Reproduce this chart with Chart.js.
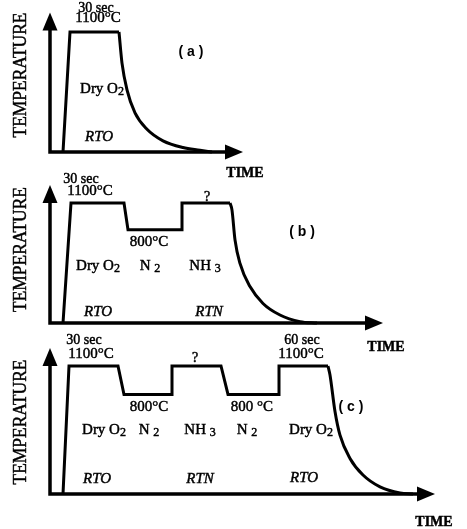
<!DOCTYPE html>
<html>
<head>
<meta charset="utf-8">
<script src="https://cdn.jsdelivr.net/npm/chart.js@4/dist/chart.umd.min.js"></script>
<style>
  html, body { margin: 0; padding: 0; background: #fff; }
  #wrap { position: relative; width: 467px; height: 529px; overflow: hidden; }
  #wrap canvas { position: absolute; left: 0; top: 0; }
</style>
</head>
<body>
<div id="wrap">
  <canvas id="panelA" width="467" height="529"></canvas>
  <canvas id="panelB" width="467" height="529"></canvas>
  <canvas id="panelC" width="467" height="529"></canvas>
</div>
<script>
// Rapid thermal processing schedules: temperature (°C) against time (schematic units)
const AXIS_T = -250;          // temperature level where the time axis sits
const PEAK_T = 1100;

// (a) RTO in dry O2
const timeA = [13, 20, 69];
const tempA = [AXIS_T, 1100, 1100];
const coolTimeA = [69, 72, 77, 85, 97, 113, 133, 150, 162];
const coolTempA = [1100, 750, 450, 190, 5, -125, -200, -230, AXIS_T];

// (b) RTO, N2 at 800 °C, then RTN in NH3
const timeB = [13, 21, 74, 78, 132, 132, 180];
const tempB = [AXIS_T, 1100, 1100, 800, 800, 1100, 1100];
const coolTimeB = [180, 182, 185, 190, 200, 213, 230, 250, 267];
const coolTempB = [1100, 1020, 685, 420, 160, -30, -160, -235, AXIS_T];

// (c) RTO, N2, RTN in NH3, N2, re-oxidation in dry O2
const timeC = [13, 19, 68, 74, 122, 122, 171, 178, 229, 229, 278];
const tempC = [AXIS_T, 1100, 1100, 800, 800, 1100, 1100, 800, 800, 1100, 1100];
const coolTimeC = [278, 280, 285, 290, 300, 313, 330, 350, 363];
const coolTempC = [1100, 1005, 620, 370, 125, -50, -175, -240, AXIS_T];

// Text placed on each panel: [style, text, time, temperature anchor, pixel offset]
const notesA = [
  ['small', '30 sec', 46, PEAK_T, -24],
  ['temp', '1100°C', 48, PEAK_T, -14],
  ['tag', '( a )', 141, PEAK_T, 20],
  ['gas', 'Dry O_2', 52, AXIS_T, -63],
  ['proc', 'RTO', 49, AXIS_T, -15]
];
const notesB = [
  ['small', '30 sec', 31, PEAK_T, -24],
  ['temp', '1100°C', 40, PEAK_T, -12],
  ['q', '?', 157, PEAK_T, -6],
  ['temp', '800°C', 99, 800, 12],
  ['tag', '( b )', 252, PEAK_T, 29],
  ['gas', 'Dry O_2', 48, AXIS_T, -57],
  ['gas', 'N _2', 100, AXIS_T, -57],
  ['gas', 'NH _3', 155, AXIS_T, -57],
  ['proc', 'RTO', 48, AXIS_T, -11],
  ['proc', 'RTN', 159, AXIS_T, -11]
];
const notesC = [
  ['small', '30 sec', 34, PEAK_T, -26],
  ['temp', '1100°C', 41, PEAK_T, -12],
  ['q', '?', 145, PEAK_T, -8],
  ['small', '60 sec', 252, PEAK_T, -26],
  ['temp', '1100°C', 251, PEAK_T, -12],
  ['temp', '800°C', 99, 800, 13],
  ['temp', '800 °C', 202, 800, 13],
  ['tag', '( c )', 301, PEAK_T, 41],
  ['gas', 'Dry O_2', 54, AXIS_T, -64],
  ['gas', 'N _2', 99, AXIS_T, -64],
  ['gas', 'NH _3', 150, AXIS_T, -64],
  ['gas', 'N _2', 197, AXIS_T, -64],
  ['gas', 'Dry O_2', 261, AXIS_T, -64],
  ['proc', 'RTO', 47, AXIS_T, -15],
  ['proc', 'RTN', 150, AXIS_T, -15],
  ['proc', 'RTO', 254, AXIS_T, -16]
];

const SERIF = '"Liberation Serif", "Times New Roman", serif';
const SANS = '"Liberation Sans", Arial, sans-serif';
const STYLES = {
  small: { font: '14px ' + SERIF },
  temp:  { font: '15px ' + SERIF },
  q:     { font: '14px ' + SERIF },
  gas:   { font: '15px ' + SERIF, sub: '12px ' + SERIF },
  proc:  { font: 'italic 15px ' + SERIF },
  tag:   { font: 'bold 14px ' + SANS }
};

function points(xs, ys) { return xs.map((x, i) => ({ x: x, y: ys[i] })); }

// Filled text with a hairline outline, which gives the printed-type weight
function ink(ctx, s, x, y, maxW) {
  if (maxW) { ctx.fillText(s, x, y, maxW); ctx.strokeText(s, x, y, maxW); }
  else { ctx.fillText(s, x, y); ctx.strokeText(s, x, y); }
}

// Text with "_" marking the following character as a subscript
function drawRich(ctx, text, cx, cy, st) {
  const parts = [];
  for (let i = 0; i < text.length; i++) {
    if (text[i] === '_' && i + 1 < text.length) { parts.push({ s: text[i + 1], sub: true }); i++; }
    else if (parts.length && !parts[parts.length - 1].sub) parts[parts.length - 1].s += text[i];
    else parts.push({ s: text[i], sub: false });
  }
  let w = 0;
  parts.forEach(p => { ctx.font = p.sub ? st.sub : st.font; p.w = ctx.measureText(p.s).width; w += p.w; });
  let x = cx - w / 2;
  ctx.textAlign = 'left';
  parts.forEach(p => {
    ctx.font = p.sub ? st.sub : st.font;
    ink(ctx, p.s, x, p.sub ? cy + 3 : cy);
    x += p.w;
  });
}

function arrow(ctx, tipX, tipY, dir, len, half) {
  ctx.beginPath();
  if (dir === 'up') {
    ctx.moveTo(tipX, tipY); ctx.lineTo(tipX - half, tipY + len); ctx.lineTo(tipX + half, tipY + len);
  } else {
    ctx.moveTo(tipX, tipY); ctx.lineTo(tipX - len, tipY - half); ctx.lineTo(tipX - len, tipY + half);
  }
  ctx.closePath();
  ctx.fill();
}

// Axes with arrowheads, axis titles and annotations
const decorPlugin = {
  id: 'decor',
  afterDraw(chart, args, opts) {
    const ctx = chart.ctx;
    const xs = chart.scales.x, ys = chart.scales.y;
    const x0 = xs.getPixelForValue(0);
    const y0 = ys.getPixelForValue(AXIS_T);
    const topTip = ys.getPixelForValue(PEAK_T) - opts.yOver;
    const rightTip = xs.getPixelForValue(xs.max);
    ctx.save();
    ctx.strokeStyle = '#000';
    ctx.fillStyle = '#000';
    ctx.lineWidth = 3.5;
    ctx.lineCap = 'butt';
    ctx.beginPath();
    ctx.moveTo(x0, y0 + 1.75);
    ctx.lineTo(x0, topTip + 12);
    ctx.moveTo(x0 - 1.75, y0);
    ctx.lineTo(rightTip - 12, y0);
    ctx.stroke();
    arrow(ctx, x0, topTip, 'up', 18, 7.5);
    arrow(ctx, rightTip, y0, 'right', 18, 7.5);

    ctx.lineWidth = 0.45;
    ctx.textBaseline = 'middle';
    ctx.textAlign = 'center';
    // time axis title
    ctx.font = 'bold 14px ' + SERIF;
    ink(ctx, 'TIME', xs.getPixelForValue(opts.timeAt[0]), y0 + opts.timeAt[1], 41);
    // temperature axis title
    ctx.save();
    ctx.translate(x0 - 28.5, y0 - opts.tempAt);
    ctx.rotate(-Math.PI / 2);
    ctx.font = '18px ' + SERIF;
    ink(ctx, 'TEMPERATURE', 0, 0, 125);
    ctx.restore();

    opts.notes.forEach(n => {
      const st = STYLES[n[0]];
      const px = xs.getPixelForValue(n[2]);
      const py = ys.getPixelForValue(n[3]) + n[4];
      if (n[0] === 'gas') drawRich(ctx, n[1], px, py, st);
      else if (n[0] === 'tag') { ctx.font = st.font; ctx.textAlign = 'center'; ctx.fillText(n[1], px, py); }
      else { ctx.font = st.font; ctx.textAlign = 'center'; ink(ctx, n[1], px, py); }
    });
    ctx.restore();
  }
};

function makePanel(id, xs, ys, cxs, cys, xMax, pad, notes, yOver, timeAt, tempAt) {
  const line = { borderColor: '#000', borderWidth: 3, pointRadius: 0, fill: false,
                 borderJoinStyle: 'miter', clip: false };
  return new Chart(document.getElementById(id), {
    type: 'line',
    data: {
      datasets: [
        Object.assign({ data: points(xs, ys), tension: 0 }, line),
        Object.assign({ data: points(cxs, cys), cubicInterpolationMode: 'monotone' }, line)
      ]
    },
    options: {
      responsive: false,
      animation: false,
      devicePixelRatio: 1,
      events: [],
      layout: { padding: pad },
      scales: {
        x: { type: 'linear', display: false, min: 0, max: xMax },
        y: { type: 'linear', display: false, min: AXIS_T, max: PEAK_T }
      },
      plugins: {
        legend: { display: false },
        tooltip: { enabled: false },
        decor: { notes: notes, yOver: yOver, timeAt: timeAt, tempAt: tempAt }
      }
    },
    plugins: [decorPlugin]
  });
}

makePanel('panelA', timeA, tempA, coolTimeA, coolTempA, 193,
  { left: 50, top: 32, right: 224, bottom: 377 }, notesA, 19.5, [195, 21], 77);
makePanel('panelB', timeB, tempB, coolTimeB, coolTempB, 333,
  { left: 50, top: 203, right: 84, bottom: 206 }, notesB, 18, [336, 24], 73.5);
makePanel('panelC', timeC, tempC, coolTimeC, coolTempC, 385,
  { left: 50, top: 366, right: 32, bottom: 35 }, notesC, 18, [384, 28], 72);
</script>
</body>
</html>
